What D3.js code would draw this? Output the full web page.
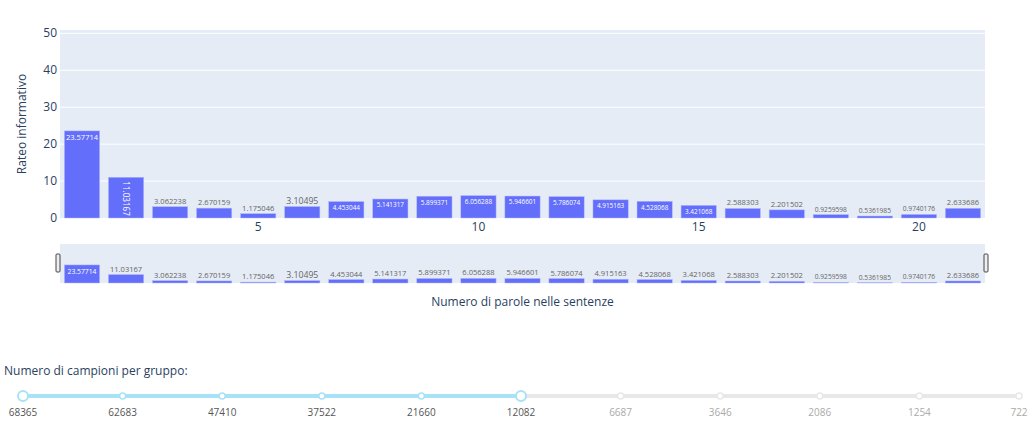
<!DOCTYPE html>
<html><head><meta charset="utf-8">
<script src="https://cdn.jsdelivr.net/npm/d3@7"></script>
<style>body{margin:0;background:#fff;font-family:"Open Sans",sans-serif}</style>
</head><body><svg id="c" width="1032" height="428"></svg>
<script>
const categories = d3.range(1, 22);
const values = [23.57714, 11.03167, 3.062238, 2.670159, 1.175046, 3.10495, 4.453044, 5.141317,
  5.899371, 6.056288, 5.946601, 5.786074, 4.915163, 4.528068, 3.421068, 2.588303, 2.201502,
  0.9259598, 0.5361985, 0.9740176, 2.633686];
const labels = ['23.57714', '11.03167', '3.062238', '2.670159', '1.175046', '3.10495', '4.453044', '5.141317',
  '5.899371', '6.056288', '5.946601', '5.786074', '4.915163', '4.528068', '3.421068', '2.588303', '2.201502',
  '0.9259598', '0.5361985', '0.9740176', '2.633686'];
const yTicks = [0, 10, 20, 30, 40, 50];
const xTicks = [5, 10, 15, 20];
const sampleSteps = ['68365', '62683', '47410', '37522', '21660', '12082', '6687', '3646', '2086', '1254', '722'];
const activeStep = 5;

const svg = d3.select('#c');
const pLeft = 60, pRight = 985, pTop = 30, pBottom = 218;
const barColor = '#636efa';

const x = d3.scaleLinear().domain([0.5, 21.5]).range([pLeft, pRight]);
const y = d3.scaleLinear().domain([0, 50.9]).range([pBottom, pTop]);
const bw = (x(2) - x(1)) * 0.8;

svg.append('rect').attr('x', pLeft).attr('y', pTop).attr('width', pRight - pLeft).attr('height', pBottom - pTop).attr('fill', '#e5ecf6');
svg.selectAll('.grid').data(yTicks.slice(1)).enter().append('line')
  .attr('x1', pLeft).attr('x2', pRight).attr('y1', d => y(d)).attr('y2', d => y(d))
  .attr('stroke', '#fff').attr('stroke-width', 1);
svg.selectAll('.yt').data(yTicks).enter().append('text')
  .attr('x', pLeft - 3).attr('y', d => y(d) + 4).attr('text-anchor', 'end')
  .attr('font-size', 12).attr('fill', '#2a3f5f').text(d => d);
svg.selectAll('.xt').data(xTicks).enter().append('text')
  .attr('x', d => x(d)).attr('y', pBottom + 13).attr('text-anchor', 'middle')
  .attr('font-size', 12).attr('fill', '#2a3f5f').text(d => d);
svg.append('text').attr('transform', `translate(26,${(pTop + pBottom) / 2}) rotate(-90)`)
  .attr('text-anchor', 'middle').attr('font-size', 12).attr('fill', '#2a3f5f').text('Rateo informativo');
svg.append('text').attr('x', (pLeft + pRight) / 2).attr('y', 306).attr('text-anchor', 'middle')
  .attr('font-size', 12).attr('fill', '#2a3f5f').text('Numero di parole nelle sentenze');

function drawBars(g, ys, main) {
  g.selectAll('rect.b').data(values).enter().append('rect').attr('class', 'b')
    .attr('x', (d, i) => x(categories[i]) - bw / 2).attr('width', bw)
    .attr('y', d => ys(d)).attr('height', d => ys(0) - ys(d))
    .attr('fill', barColor).attr('stroke', '#b3b8fc').attr('stroke-width', 0.5);
  values.forEach((v, i) => {
    const cx = x(categories[i]), h = ys(0) - ys(v);
    const t = g.append('text').attr('text-anchor', 'middle').attr('font-size', 10).text(labels[i]);
    let w = t.node().getComputedTextLength();
    let fs = Math.min(10, 10 * (bw - 3) / w);
    if (main && h > w + 6) {
      t.attr('font-size', fs).attr('fill', '#fff').attr('x', cx).attr('y', ys(v) + fs + 2);
    } else if (main && h > 30) {
      // rotated label inside tall bar
      fs = Math.min(12, 10 * (h - 6) / w);
      t.attr('font-size', fs).attr('fill', '#fff').attr('text-anchor', 'start')
        .attr('transform', `translate(${cx - fs * 0.35},${ys(v) + 4}) rotate(90)`);
    } else if (main && h > fs + 4) {
      t.attr('font-size', fs * 0.85).attr('fill', '#fff').attr('x', cx).attr('y', ys(v) + fs * 0.85 + 2);
    } else if (!main && i === 0) {
      t.attr('font-size', fs * 0.9).attr('fill', '#fff').attr('x', cx).attr('y', ys(v) + fs + 2);
    } else {
      t.attr('font-size', fs).attr('fill', fs < 9 ? '#666' : '#333').attr('x', cx).attr('y', ys(v) - 3);
    }
  });
}
drawBars(svg.append('g'), y, true);

// range slider
const rsTop = 244, rsBot = 283;
const ys2 = d3.scaleLinear().domain([0, 50.9]).range([rsBot, rsTop]);
svg.append('rect').attr('x', pLeft).attr('y', rsTop).attr('width', pRight - pLeft).attr('height', rsBot - rsTop).attr('fill', '#e5ecf6');
drawBars(svg.append('g'), ys2, false);
[pLeft - 2, pRight + 1].forEach(hx => svg.append('rect').attr('x', hx - 2).attr('y', 254).attr('width', 4).attr('height', 18)
  .attr('rx', 1).attr('fill', '#eee').attr('stroke', '#444').attr('stroke-width', 1));

// step slider
svg.append('text').attr('x', 4).attr('y', 375).attr('font-size', 12).attr('fill', '#2a3f5f').text('Numero di campioni per gruppo:');
const sx = d3.scalePoint().domain(sampleSteps).range([23, 1019]);
svg.append('line').attr('x1', 23).attr('x2', 1019).attr('y1', 396).attr('y2', 396).attr('stroke', '#e8e8e8').attr('stroke-width', 4).attr('stroke-linecap', 'round');
svg.append('line').attr('x1', 23).attr('x2', sx(sampleSteps[activeStep])).attr('y1', 396).attr('y2', 396).attr('stroke', '#a8e2f7').attr('stroke-width', 4);
sampleSteps.forEach((s, i) => {
  const big = i === 0 || i === activeStep;
  svg.append('circle').attr('cx', sx(s)).attr('cy', 396).attr('r', big ? 5 : 3)
    .attr('fill', '#fff').attr('stroke', i <= activeStep ? '#a8e2f7' : '#e8e8e8').attr('stroke-width', big ? 2 : 1.5);
  svg.append('text').attr('x', sx(s)).attr('y', 416).attr('text-anchor', 'middle').attr('font-size', 10)
    .attr('fill', i <= activeStep ? '#555' : '#aaa').text(s);
});
</script></body></html>
